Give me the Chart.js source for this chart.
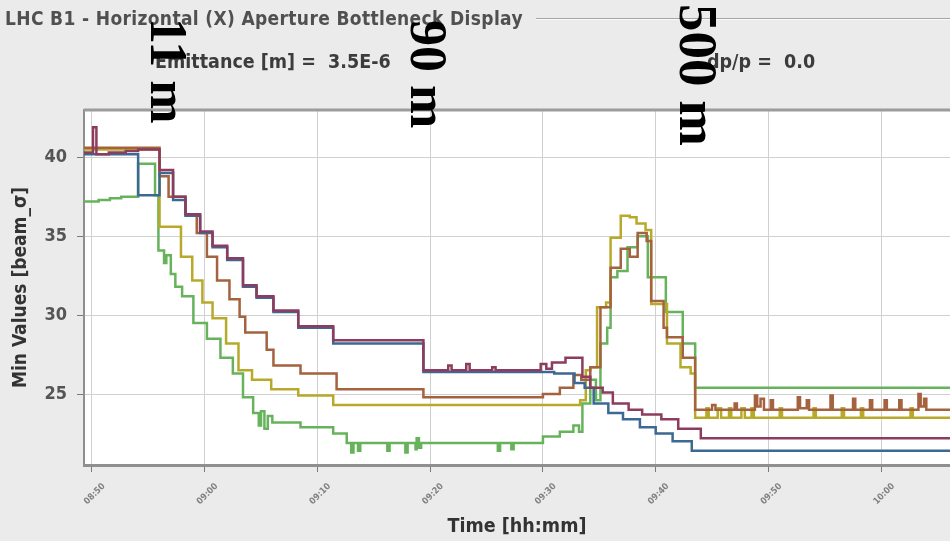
<!DOCTYPE html>
<html>
<head>
<meta charset="utf-8">
<script src="https://cdn.jsdelivr.net/npm/chart.js@4.4.1/dist/chart.umd.min.js"></script>
<style>
  body { margin: 0; background: #ebebeb; }
  #panel { position: relative; width: 950px; height: 541px; overflow: hidden; background: #ebebeb;
           font-family: "DejaVu Sans Condensed", "DejaVu Sans", sans-serif; }
  #panel canvas { position: absolute; left: 0; top: 0; }
  .caption { position: absolute; left: 5px; top: 7px; font-size: 19px; letter-spacing: 0.35px; font-weight: bold; color: #505050; white-space: nowrap; z-index: 2; }
  .rule { position: absolute; left: 536px; right: 0; top: 18px; height: 1px; background: #a5a5a5; border-bottom: 1px solid #fafafa; z-index: 2; }
  .param { position: absolute; top: 50px; font-size: 19.5px; font-weight: bold; color: #3c3c3c; white-space: pre; z-index: 2; }
  .optics { position: absolute; font-family: "Liberation Serif", "DejaVu Serif", serif; font-size: 52px; font-weight: bold;
            color: #000; writing-mode: vertical-rl; line-height: 1; white-space: nowrap; z-index: 3; }
</style>
</head>
<body>
<div id="panel">
  <canvas id="aperture" width="950" height="541"></canvas>
  <div class="caption">LHC B1 - Horizontal (X) Aperture Bottleneck Display</div>
  <div class="rule"></div>
  <div class="param" style="left:155px">Emittance [m] =  3.5E-6</div>
  <div class="param" style="left:707px">dp/p =  0.0</div>
  <div class="optics" style="left:142px; top:18px">11 m</div>
  <div class="optics" style="left:402px; top:20px">90 m</div>
  <div class="optics" style="left:671px; top:4px; font-size:55px">500 m</div>
</div>
<script>
// time axis in minutes after 08:50
const tickTimes = [0, 10, 20, 30, 40, 50, 60, 70];
const tickLabels = ['08:50', '09:00', '09:10', '09:20', '09:30', '09:40', '09:50', '10:00'];
const valueTicks = [25, 30, 35, 40];

// each series: [minutes, min aperture in beam sigma], value held until next point
const maroon = [
  [-0.7, 40.3], [0.1, 41.9], [0.4, 40.2], [1.5, 40.3], [3.0, 40.4], [4.1, 40.5],
  [6.0, 39.2], [7.2, 37.5], [8.3, 36.4], [9.6, 35.3], [10.7, 34.4], [12.0, 33.6],
  [13.4, 31.9], [14.6, 31.2], [16.1, 30.3], [18.3, 29.3], [21.4, 28.4],
  [29.4, 26.5], [31.6, 26.8], [31.9, 26.5], [33.2, 26.9], [33.5, 26.5], [35.5, 26.7],
  [35.8, 26.5], [39.8, 26.9], [40.3, 26.6], [40.8, 27.0], [42.0, 27.3],
  [43.5, 26.1], [44.2, 25.4], [45.3, 25.1], [46.2, 24.4], [47.6, 24.0], [48.8, 23.7],
  [50.5, 23.4], [52.0, 22.8], [54.0, 22.2], [76.1, 22.2]
];
const blue = [
  [-0.7, 40.2], [4.1, 37.6], [6.0, 39.0], [7.2, 37.3], [8.3, 36.3], [9.6, 35.2],
  [10.7, 34.3], [12.0, 33.5], [13.4, 31.8], [14.6, 31.1], [16.1, 30.2], [18.3, 29.2],
  [21.4, 28.2], [29.4, 26.4], [41.0, 26.3], [42.8, 25.7], [43.7, 25.4], [44.5, 24.4],
  [45.8, 23.8], [47.1, 23.4], [48.6, 22.9], [50.0, 22.5], [51.5, 22.0], [53.2, 21.4],
  [76.1, 21.4]
];
const brown = [
  [-0.7, 40.6], [6.0, 38.8], [6.8, 37.5], [8.3, 36.4], [9.3, 35.2], [10.2, 33.7],
  [11.1, 32.2], [12.2, 31.0], [13.1, 29.9], [13.6, 28.9], [15.5, 27.8], [16.1, 26.8],
  [18.5, 26.3], [21.7, 25.3], [29.4, 24.8], [40.0, 25.0], [41.5, 25.4], [42.7, 26.2],
  [43.4, 25.9], [44.2, 26.7], [45.1, 30.5], [46.0, 33.0], [46.9, 34.2], [47.7, 33.7],
  [48.4, 35.2], [49.2, 34.7], [49.6, 30.9], [50.7, 29.2], [51.0, 28.6], [52.4, 27.3],
  [53.5, 24.0], [55.0, 24.3], [55.3, 24.0], [57.0, 24.4], [57.2, 24.0], [58.8, 24.9],
  [59.0, 24.2], [59.3, 24.7], [59.6, 24.0], [60.2, 24.6], [60.4, 24.0], [62.6, 24.8],
  [62.8, 24.1], [63.4, 24.6], [63.6, 24.0], [65.5, 24.9], [65.7, 24.0], [67.5, 24.7],
  [67.7, 24.0], [69.0, 24.6], [69.2, 24.0], [70.3, 24.6], [70.5, 24.0], [71.6, 24.6],
  [71.8, 24.0], [73.3, 25.0], [73.5, 24.2], [73.8, 24.7], [74.0, 24.0], [76.1, 24.0]
];
const yellow = [
  [-0.7, 40.5], [6.0, 35.6], [7.9, 33.7], [8.9, 32.2], [9.8, 30.8], [10.7, 29.8],
  [11.9, 28.2], [13.0, 26.5], [14.2, 25.9], [15.9, 25.3], [18.3, 24.9], [21.4, 24.3],
  [43.3, 24.6], [43.8, 26.5], [44.2, 26.7], [44.8, 30.5], [45.6, 30.8], [46.0, 34.9],
  [46.9, 36.3], [47.7, 36.2], [48.3, 35.8], [49.1, 35.4], [49.6, 30.7], [51.0, 28.2],
  [52.2, 26.7], [53.1, 26.3], [53.5, 23.5], [54.5, 24.1], [54.7, 23.5], [55.5, 24.1],
  [55.8, 23.5], [56.5, 24.1], [56.7, 23.5], [57.6, 24.1], [57.9, 23.5], [58.5, 24.1],
  [58.7, 23.5], [61.0, 24.1], [61.2, 23.5], [64.0, 24.1], [64.2, 23.5], [66.5, 24.1],
  [66.7, 23.5], [68.2, 24.1], [68.4, 23.5], [72.6, 24.1], [72.8, 23.5], [76.1, 23.5]
];
const green = [
  [-0.7, 37.2], [0.6, 37.3], [1.6, 37.4], [2.6, 37.5], [4.1, 39.6], [5.6, 37.6],
  [5.9, 34.1], [6.4, 33.3], [6.6, 33.8], [7.0, 32.6], [7.4, 31.8], [8.0, 31.2],
  [9.0, 29.5], [10.2, 28.5], [11.4, 27.3], [12.5, 26.3], [13.4, 24.8], [14.3, 23.8],
  [14.8, 23.0], [15.0, 23.9], [15.3, 22.8], [15.6, 23.6], [16.0, 23.2], [18.5, 22.9],
  [21.4, 22.5], [22.6, 21.9], [23.0, 21.3], [23.2, 21.9], [23.6, 21.4], [23.8, 21.9],
  [26.2, 21.4], [26.4, 21.9], [27.8, 21.3], [28.0, 21.9], [28.7, 21.5], [28.8, 22.2],
  [29.0, 21.6], [29.2, 21.9], [36.0, 21.4], [36.2, 21.9], [37.2, 21.5], [37.4, 21.9],
  [40.0, 22.3], [41.5, 22.6], [42.7, 23.0], [43.2, 22.6], [43.5, 24.4], [44.2, 25.9],
  [44.7, 24.6], [45.1, 28.2], [45.7, 29.2], [46.0, 32.4], [46.6, 32.8], [47.5, 34.3],
  [48.4, 35.0], [49.3, 32.4], [50.9, 30.2], [52.4, 28.2], [53.5, 25.4], [76.1, 25.4]
];

const fontFamily = '"DejaVu Sans Condensed", "DejaVu Sans", sans-serif';

function series(points, color) {
  return {
    data: points.map(p => ({ x: p[0], y: p[1] })),
    borderColor: color,
    borderWidth: 2.5,
    stepped: true,
    pointRadius: 0,
    fill: false
  };
}

// white plot area plus the grey frame line along its top
const plotFrame = {
  id: 'plotFrame',
  beforeDraw(chart) {
    const { ctx, chartArea: a } = chart;
    ctx.save();
    ctx.fillStyle = '#ffffff';
    ctx.fillRect(a.left, a.top, a.right - a.left, a.bottom - a.top);
    ctx.restore();
  },
  afterDraw(chart) {
    const { ctx, chartArea: a } = chart;
    ctx.save();
    ctx.strokeStyle = '#9c9c9c';
    ctx.lineWidth = 3;
    ctx.beginPath();
    ctx.moveTo(a.left, a.top);
    ctx.lineTo(a.right, a.top);
    ctx.stroke();
    ctx.restore();
  }
};

new Chart(document.getElementById('aperture'), {
  type: 'line',
  data: {
    datasets: [
      series(maroon, '#8d3c5e'),
      series(blue, '#3c6894'),
      series(brown, '#a5623e'),
      series(yellow, '#b7aa2a'),
      series(green, '#67b35c')
    ]
  },
  options: {
    responsive: false,
    devicePixelRatio: 1,
    animation: false,
    layout: { padding: { top: 110, right: 0, left: 0, bottom: 0 } },
    plugins: { legend: { display: false }, tooltip: { enabled: false } },
    scales: {
      x: {
        type: 'linear',
        min: -0.7,
        max: 76.1,
        afterBuildTicks: s => { s.ticks = tickTimes.map(v => ({ value: v })); },
        afterFit: s => { s.height = 76; },
        ticks: {
          callback: (v, i) => tickLabels[i],
          minRotation: 45,
          maxRotation: 45,
          autoSkip: false,
          labelOffset: 12,
          padding: 9,
          color: '#808080',
          font: { family: fontFamily, size: 9, weight: 'bold' }
        },
        grid: { color: '#d0d0d0', lineWidth: 1, tickLength: 7, tickColor: '#7a7a7a' },
        border: { color: '#8f8f8f', width: 3 },
        title: {
          display: true,
          text: 'Time [hh:mm]',
          color: '#333333',
          font: { family: fontFamily, size: 19.5, weight: 'bold' },
          padding: { top: 0, bottom: 2 }
        }
      },
      y: {
        min: 20.5,
        max: 43,
        afterBuildTicks: s => { s.ticks = valueTicks.map(v => ({ value: v })); },
        afterFit: s => { s.width = 84; },
        ticks: {
          color: '#555555',
          padding: 10,
          font: { family: fontFamily, size: 18, weight: 'bold' }
        },
        grid: { color: '#d0d0d0', lineWidth: 1, tickLength: 7, tickColor: '#7a7a7a' },
        border: { color: '#8f8f8f', width: 2 },
        title: {
          display: true,
          text: 'Min Values [beam_σ]',
          color: '#333333',
          font: { family: fontFamily, size: 19, weight: 'bold' },
          padding: { top: 10, bottom: 0 }
        }
      }
    }
  },
  plugins: [plotFrame]
});
</script>
</body>
</html>
